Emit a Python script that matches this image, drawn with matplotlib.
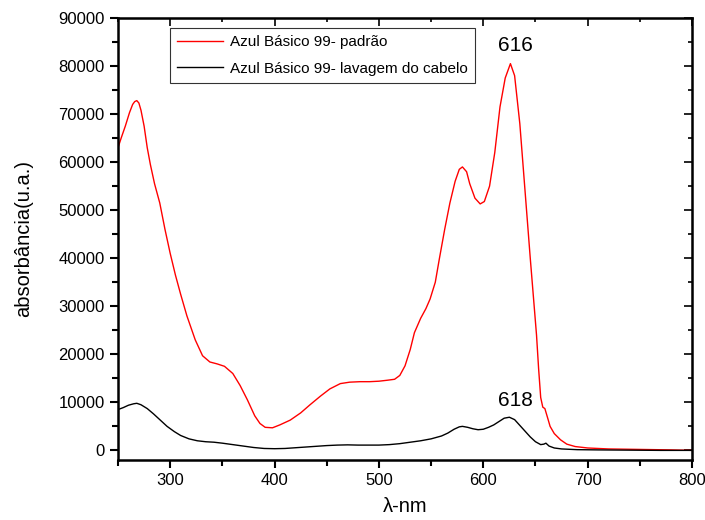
import matplotlib
matplotlib.use("Agg")
import matplotlib.pyplot as plt
from matplotlib.ticker import MultipleLocator

plt.rcParams['font.family'] = ['Liberation Sans', 'DejaVu Sans']

# padrão spectrum (red)
wl_std = [250, 253, 257, 261, 264, 266, 268, 270, 272, 275, 278, 281, 285, 290, 295,
          300, 305, 310, 316, 324, 331, 338, 345, 352, 360, 367, 374, 381, 386, 391,
          398, 405, 415, 425, 434, 444, 453, 463, 472, 482, 491, 500, 508, 515, 520,
          525, 530, 534, 540, 545, 549, 554, 558, 563, 568, 573, 577, 580, 584, 587,
          592, 597, 601, 606, 611, 616, 621, 626, 630, 635, 640, 645, 648, 651, 653,
          655, 657, 659, 662, 664, 668, 674, 680, 688, 700, 720, 750, 780, 800]
abs_std = [63000, 65000, 67500, 70300, 72000, 72600, 72800, 72300, 70800, 67500, 63000,
           59500, 55500, 51500, 46000, 41000, 36500, 32500, 28000, 23000, 19700, 18400,
           18000, 17500, 16000, 13500, 10500, 7200, 5600, 4800, 4700, 5300, 6300, 7800,
           9500, 11300, 12800, 13900, 14200, 14300, 14300, 14400, 14600, 14800, 15600,
           17600, 21000, 24500, 27500, 29500, 31500, 35000, 40000, 46000, 51500, 56000,
           58500, 59000, 58000, 55500, 52500, 51300, 51800, 55000, 62000, 71500, 77500,
           80500, 78000, 68000, 54000, 40000, 32000, 24000, 17000, 11000, 9000, 8700,
           6500, 5000, 3500, 2200, 1300, 800, 500, 300, 200, 100, 0]

# lavagem do cabelo spectrum (black)
wl_wash = [250, 255, 260, 265, 268, 272, 278, 284, 290, 297, 304, 310, 318, 326, 334,
           342, 350, 360, 370, 380, 390, 400, 410, 420, 430, 440, 450, 460, 470, 480,
           490, 500, 510, 520, 530, 540, 550, 560, 566, 572, 577, 580, 585, 590, 595,
           600, 605, 610, 615, 620, 625, 630, 635, 640, 645, 650, 655, 658, 660, 663,
           668, 675, 690, 710, 740, 770, 800]
abs_wash = [8500, 8900, 9400, 9700, 9800, 9500, 8700, 7600, 6400, 5000, 3900, 3100,
            2400, 2000, 1800, 1700, 1500, 1200, 900, 600, 400, 350, 400, 550, 700, 850,
            1000, 1100, 1150, 1100, 1100, 1100, 1200, 1400, 1700, 2000, 2400, 3000, 3600,
            4400, 4900, 5000, 4800, 4500, 4300, 4400, 4800, 5300, 6000, 6700, 6900, 6400,
            5200, 4000, 2800, 1800, 1200, 1300, 1500, 900, 500, 300, 150, 100, 50, 0, 0]

fig = plt.figure(figsize=(7.05, 5.2), dpi=100)
ax = fig.add_axes([0.1674, 0.1154, 0.8142, 0.85])

ax.plot(wl_std, abs_std, color="red", lw=1.0, label="Azul Básico 99- padrão")
ax.plot(wl_wash, abs_wash, color="black", lw=1.0, label="Azul Básico 99- lavagem do cabelo")

ax.text(631, 84200, "616", fontsize=15, ha="center", va="center")
ax.text(631, 10400, "618", fontsize=15, ha="center", va="center")

ax.set_xlim(250, 800)
ax.set_ylim(-2000, 90000)
ax.xaxis.set_major_locator(MultipleLocator(100))
ax.xaxis.set_minor_locator(MultipleLocator(50))
ax.yaxis.set_major_locator(MultipleLocator(10000))
ax.yaxis.set_minor_locator(MultipleLocator(5000))

for s in ax.spines.values():
    s.set_linewidth(1.8)
ax.tick_params(which="both", direction="out", width=1.5, labelsize=12)
ax.tick_params(which="major", length=6)
ax.tick_params(which="minor", length=4)

# mirrored ticks on top and right, pointing inward
sec_x = ax.secondary_xaxis("top")
sec_x.xaxis.set_major_locator(MultipleLocator(100))
sec_x.xaxis.set_minor_locator(MultipleLocator(50))
sec_x.tick_params(which="both", direction="in", labeltop=False, width=1.2)
sec_x.tick_params(which="major", length=6)
sec_x.tick_params(which="minor", length=3)
sec_y = ax.secondary_yaxis("right")
sec_y.yaxis.set_major_locator(MultipleLocator(10000))
sec_y.yaxis.set_minor_locator(MultipleLocator(5000))
sec_y.tick_params(which="both", direction="in", labelright=False, width=1.2)
sec_y.tick_params(which="major", length=6)
sec_y.tick_params(which="minor", length=3)

ax.set_xlabel("λ-nm", fontsize=14.5, labelpad=6)
ax.set_ylabel("absorbância(u.a.)", fontsize=14.5, labelpad=18)

leg = ax.legend(loc="upper left", bbox_to_anchor=(0.09, 0.978), fontsize=11,
                frameon=True, fancybox=False, handlelength=3.0, borderpad=0.5,
                labelspacing=0.8, handletextpad=0.45, borderaxespad=0)
leg.get_frame().set_edgecolor("black")
leg.get_frame().set_linewidth(0.8)

fig.savefig("out.png", dpi=100)
